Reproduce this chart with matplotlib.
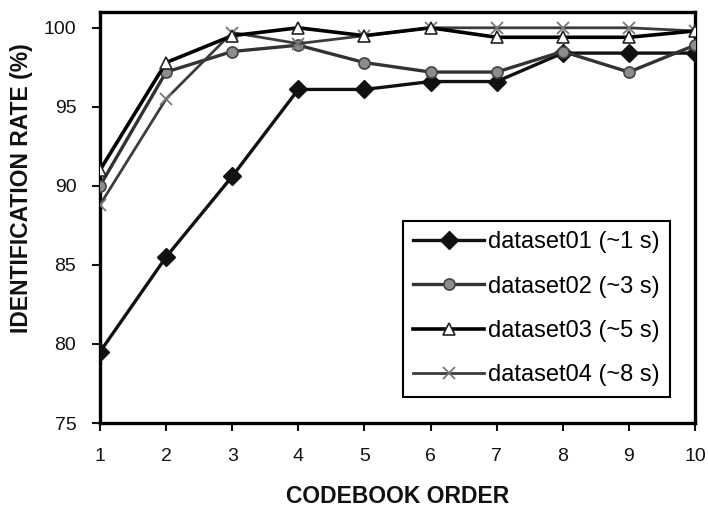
import matplotlib
matplotlib.use("Agg")
import matplotlib.pyplot as plt

plt.rcParams['font.family'] = ['Liberation Sans', 'DejaVu Sans']

orders = [1, 2, 3, 4, 5, 6, 7, 8, 9, 10]
dataset01 = [79.5, 85.5, 90.6, 96.1, 96.1, 96.6, 96.6, 98.4, 98.4, 98.4]
dataset02 = [90.0, 97.2, 98.5, 98.9, 97.8, 97.2, 97.2, 98.5, 97.2, 98.9]
dataset03 = [91.0, 97.8, 99.5, 100.0, 99.5, 100.0, 99.4, 99.4, 99.4, 99.8]
dataset04 = [88.8, 95.5, 99.7, 99.0, 99.5, 100.0, 100.0, 100.0, 100.0, 99.8]
labels = ['dataset01 (~1 s)', 'dataset02 (~3 s)', 'dataset03 (~5 s)', 'dataset04 (~8 s)']
yticks = [75, 80, 85, 90, 95, 100]

fig = plt.figure(figsize=(7.08, 5.08), dpi=100)
ax = fig.add_axes([0.1412, 0.1673, 0.8404, 0.8091])

ax.plot(orders, dataset01, color='#111111', lw=2.4, marker='D', ms=9,
        mfc='#111111', mec='#111111', label=labels[0], zorder=3)
ax.plot(orders, dataset02, color='#333333', lw=2.4, marker='o', ms=8,
        mfc='#8c8c8c', mec='#444444', mew=1.2, label=labels[1], zorder=3)
ax.plot(orders, dataset03, color='#000000', lw=2.6, marker='^', ms=9,
        mfc='white', mec='#222222', mew=1.2, label=labels[2], zorder=4)
ax.plot(orders, dataset04, color='#3c3c3c', lw=2.0, marker='x', ms=9,
        mec='#777777', mew=1.3, label=labels[3], zorder=3)

ax.set_xlim(1, 10)
ax.set_ylim(75, 101)
ax.set_xticks(orders)
ax.set_yticks(yticks)
ax.tick_params(axis='both', direction='out', length=6, width=1.5,
               labelsize=14, colors='#111111')
ax.tick_params(axis='y', pad=11)
ax.tick_params(axis='x', pad=12)
for s in ax.spines.values():
    s.set_linewidth(2.4)
    s.set_color('#000000')

ax.set_xlabel('CODEBOOK ORDER', fontsize=16.5, fontweight='bold', color='#111111')
ax.xaxis.set_label_coords(0.5, -0.152)
ax.set_ylabel('IDENTIFICATION RATE (%)', fontsize=16.5, fontweight='bold', color='#111111')
ax.yaxis.set_label_coords(-0.112, 0.572)

leg = ax.legend(loc='lower right', bbox_to_anchor=(0.958, 0.063), fontsize=17,
                frameon=True, fancybox=False, edgecolor='black', framealpha=1,
                handlelength=3.0, handletextpad=0.15, labelspacing=0.95,
                borderpad=0.45, borderaxespad=0)
leg.get_frame().set_linewidth(1.5)

fig.savefig('out.png', dpi=100)
